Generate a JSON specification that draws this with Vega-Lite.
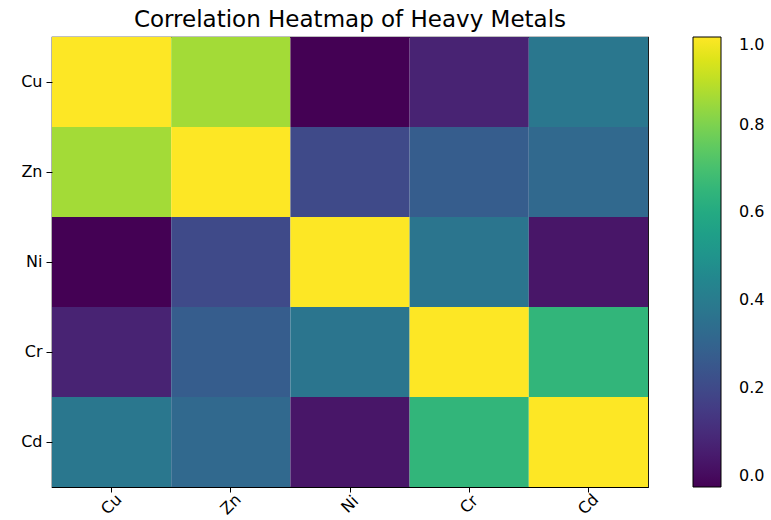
{
  "$schema": "https://vega.github.io/schema/vega-lite/v6.json",
  "autosize": {"type": "none"},
  "padding": {"left": 52, "top": 37, "right": 123, "bottom": 33},
  "width": 596,
  "height": 450,
  "background": "white",
  "title": {
    "text": "Correlation Heatmap of Heavy Metals",
    "font": "DejaVu Sans",
    "fontSize": 23,
    "fontWeight": "normal",
    "color": "black",
    "anchor": "middle",
    "offset": 5
  },
  "config": {
    "view": {"stroke": "black", "strokeWidth": 1.2},
    "font": "DejaVu Sans"
  },
  "data": {
    "values": [
      {"row": "Cu", "col": "Cu", "r": 1.0},
      {"row": "Cu", "col": "Zn", "r": 0.86},
      {"row": "Cu", "col": "Ni", "r": -0.026},
      {"row": "Cu", "col": "Cr", "r": 0.07},
      {"row": "Cu", "col": "Cd", "r": 0.38},
      {"row": "Zn", "col": "Cu", "r": 0.86},
      {"row": "Zn", "col": "Zn", "r": 1.0},
      {"row": "Zn", "col": "Ni", "r": 0.2},
      {"row": "Zn", "col": "Cr", "r": 0.27},
      {"row": "Zn", "col": "Cd", "r": 0.32},
      {"row": "Ni", "col": "Cu", "r": -0.026},
      {"row": "Ni", "col": "Zn", "r": 0.2},
      {"row": "Ni", "col": "Ni", "r": 1.0},
      {"row": "Ni", "col": "Cr", "r": 0.37},
      {"row": "Ni", "col": "Cd", "r": 0.03},
      {"row": "Cr", "col": "Cu", "r": 0.07},
      {"row": "Cr", "col": "Zn", "r": 0.27},
      {"row": "Cr", "col": "Ni", "r": 0.37},
      {"row": "Cr", "col": "Cr", "r": 1.0},
      {"row": "Cr", "col": "Cd", "r": 0.65},
      {"row": "Cd", "col": "Cu", "r": 0.38},
      {"row": "Cd", "col": "Zn", "r": 0.32},
      {"row": "Cd", "col": "Ni", "r": 0.03},
      {"row": "Cd", "col": "Cr", "r": 0.65},
      {"row": "Cd", "col": "Cd", "r": 1.0}
    ]
  },
  "mark": {"type": "rect", "strokeWidth": 0},
  "encoding": {
    "x": {
      "field": "col",
      "type": "nominal",
      "sort": ["Cu", "Zn", "Ni", "Cr", "Cd"],
      "scale": {"paddingInner": 0, "paddingOuter": 0},
      "axis": {
        "title": null,
        "labelAngle": -45,
        "labelAlign": "center",
        "labelBaseline": "middle",
        "labelPadding": 12,
        "labelFontSize": 16,
        "labelColor": "black",
        "tickColor": "black",
        "tickSize": 5,
        "domain": false
      }
    },
    "y": {
      "field": "row",
      "type": "nominal",
      "sort": ["Cu", "Zn", "Ni", "Cr", "Cd"],
      "scale": {"paddingInner": 0, "paddingOuter": 0},
      "axis": {
        "title": null,
        "labelAngle": 0,
        "labelPadding": 4,
        "labelFontSize": 16,
        "labelColor": "black",
        "tickColor": "black",
        "tickSize": 6,
        "domain": false
      }
    },
    "color": {
      "field": "r",
      "type": "quantitative",
      "scale": {"scheme": "viridis", "domain": [-0.026, 1]},
      "legend": {
        "title": null,
        "orient": "right",
        "offset": 45,
        "gradientLength": 450,
        "gradientThickness": 28,
        "gradientStrokeColor": "black",
        "gradientStrokeWidth": 1,
        "values": [0, 0.2, 0.4, 0.6, 0.8, 1.0],
        "format": ".1f",
        "labelFontSize": 16,
        "labelColor": "black",
        "labelOffset": 18,
        "padding": 0
      }
    }
  }
}
